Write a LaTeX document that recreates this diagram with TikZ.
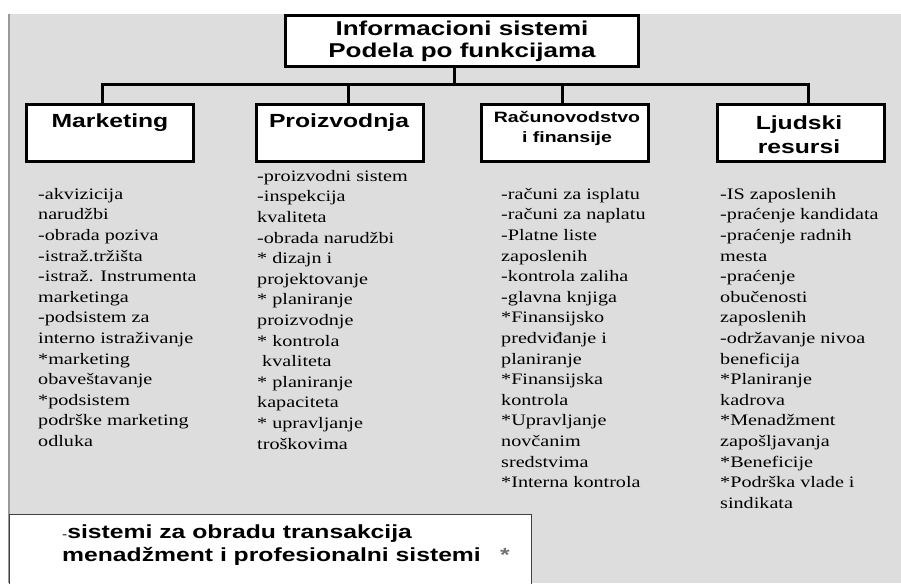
\documentclass[tikz,border=0pt]{standalone}
\usepackage{fontspec}
\setmainfont{Liberation Serif}
\newfontfamily\headfont[FakeStretch=1.3]{Liberation Sans}
\newfontfamily\listfont[FakeStretch=1.26]{Liberation Serif}
\usetikzlibrary{positioning}
\definecolor{panel}{gray}{0.867}
\definecolor{paneledge}{gray}{0.6}

\begin{document}
\begin{tikzpicture}[
  x=1pt, y=-1pt,
  frame/.style={draw, line width=3pt, fill=white, inner sep=0pt},
  head/.style={frame, minimum width=167pt, minimum height=57pt},
  headtxt/.style={align=center, inner sep=0pt,
                  font=\headfont\bfseries\fontsize{19}{24}\selectfont},
  list/.style={align=left, anchor=north west, inner sep=0pt,
               font=\listfont\fontsize{16}{20.6}\selectfont},
  link/.style={line width=3pt},
]
\useasboundingbox (0,0) rectangle (901,583);

% grey panel
\fill[panel] (9,14) rectangle (901,583);
\draw[paneledge, line width=1.2pt] (9,14) -- (9,583);

% root
\node[frame, minimum width=353pt, minimum height=51pt, align=center,
      font=\headfont\bfseries\fontsize{20}{22}\selectfont] (title) at (462,41)
  {Informacioni sistemi\\Podela po funkcijama};

% functions
\node[head] (mkt)  at (110,133)   {};
\node[head] (prod) at (339.5,133) {};
\node[head] (acc)  at (564.5,133) {};
\node[head] (hr)   at (801,133)   {};

\node[headtxt] (mkttxt)  at (110,123) {Marketing};
\node[headtxt] (prodtxt) at (339,123) {Proizvodnja};
\node[headtxt, font=\headfont\bfseries\fontsize{15}{20}\selectfont] (acctxt) at (567,128)
  {Računovodstvo\\i finansije};
\node[headtxt] (hrtxt) at (799,135) {Ljudski\\resursi};

% bus
\coordinate (jn)    at (454,85);
\coordinate (bMkt)  at (102,85);
\coordinate (bProd) at (348,85);
\coordinate (bAcc)  at (562,85);
\coordinate (bHr)   at (808,85);

\draw[link] (jn |- title.south) -- (jn);
\draw[link] (bMkt |- mkt.north) -- (bMkt) -- (bHr) -- (bHr |- hr.north);
\draw[link] (bProd) -- (bProd |- prod.north);
\draw[link] (bAcc) -- (bAcc |- acc.north);

% subsystems
\node[list] (mktlist) at (38,188) {-akvizicija\\
  narudžbi\\
  -obrada poziva\\
  -istraž.tržišta\\
  -istraž. Instrumenta\\
  marketinga\\
  -podsistem za\\
  interno istraživanje\\
  {*}marketing\\
  obaveštavanje\\
  {*}podsistem\\
  podrške marketing\\
  odluka};

\node[list] (prodlist) at (257,170) {-proizvodni sistem\\
  -inspekcija\\
  kvaliteta\\
  -obrada narudžbi\\
  {*} dizajn i\\
  projektovanje\\
  {*} planiranje\\
  proizvodnje\\
  {*} kontrola\\
  \hspace*{5pt}kvaliteta\\
  {*} planiranje\\
  kapaciteta\\
  {*} upravljanje\\
  troškovima};

\node[list] (acclist) at (501,188) {-računi za isplatu\\
  -računi za naplatu\\
  -Platne liste\\
  zaposlenih\\
  -kontrola zaliha\\
  -glavna knjiga\\
  {*}Finansijsko\\
  predviđanje i\\
  planiranje\\
  {*}Finansijska\\
  kontrola\\
  {*}Upravljanje\\
  novčanim\\
  sredstvima\\
  {*}Interna kontrola};

\node[list] (hrlist) at (720,188) {-IS zaposlenih\\
  -praćenje kandidata\\
  -praćenje radnih\\
  mesta\\
  -praćenje\\
  obučenosti\\
  zaposlenih\\
  -održavanje nivoa\\
  beneficija\\
  {*}Planiranje\\
  kadrova\\
  {*}Menadžment\\
  zapošljavanja\\
  {*}Beneficije\\
  {*}Podrška vlade i\\
  sindikata};

% legend
\node[draw=black!75, line width=1pt, fill=white, inner sep=0pt,
      minimum width=522pt, minimum height=80pt] (note) at (270.5,554) {};
\node[align=left, anchor=west, inner sep=0pt,
      font=\headfont\bfseries\fontsize{19}{23}\selectfont] (notetxt) at (62,545)
  {{\mdseries\fontsize{12}{12}\selectfont -}sistemi za obradu transakcija\\
   menadžment i profesionalni sistemi};
\node[inner sep=0pt, text=black!55, font=\headfont\bfseries\fontsize{19}{19}\selectfont]
  (notestar) at (505,555) {*};

\end{tikzpicture}
\end{document}
